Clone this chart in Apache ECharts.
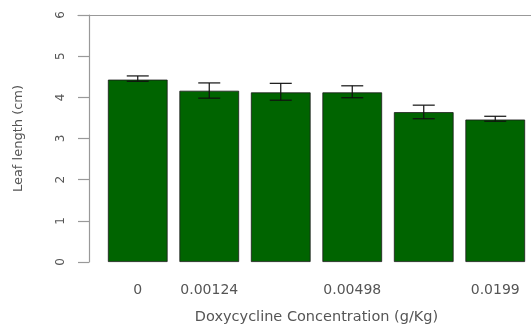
<!DOCTYPE html>
<html><head><meta charset="utf-8">
<script src="https://cdn.jsdelivr.net/npm/echarts@6/dist/echarts.min.js"></script>
<style>html,body{margin:0;padding:0;background:#fff}#c{width:531px;height:335px}</style>
</head><body><div id="c"></div>
<script>
const categories = ['0', '0.00124', '0.00249', '0.00498', '0.00995', '0.0199'];
const shownLabels = [0, 1, 3, 5];
const meanLength = [4.43, 4.16, 4.12, 4.12, 3.64, 3.46];
const errLow = [4.39, 3.98, 3.93, 3.99, 3.48, 3.42];
const errHigh = [4.52, 4.35, 4.34, 4.28, 3.81, 3.54];
const yTicks = [0, 1, 2, 3, 4, 5, 6];

const chart = echarts.init(document.getElementById('c'));
const font = 'DejaVu Sans, sans-serif';
const txt = '#555';
chart.setOption({
  animation: false,
  grid: [
    {left: 102, right: -3, top: 15, bottom: 73},
    {left: 78, right: 0, top: 15, height: 0}
  ],
  xAxis: [{
    type: 'category', data: categories, gridIndex: 0,
    axisLine: {show: false}, axisTick: {show: false},
    axisLabel: {interval: (i) => shownLabels.includes(i), color: txt, fontSize: 14, fontFamily: font, margin: 21},
    name: 'Doxycycline Concentration (g/Kg)', nameLocation: 'middle', nameGap: 48,
    nameTextStyle: {color: txt, fontSize: 14.5, fontFamily: font}
  }, {
    type: 'value', gridIndex: 1, position: 'top',
    axisLine: {show: true, lineStyle: {color: '#999', width: 1.2}},
    axisTick: {show: false}, axisLabel: {show: false}, splitLine: {show: false}
  }],
  yAxis: [{
    type: 'value', min: 0, max: 6, interval: 1, gridIndex: 0, offset: 13,
    axisLine: {show: true, lineStyle: {color: '#999', width: 1.2}},
    axisTick: {show: true, length: 11, lineStyle: {color: '#999', width: 1.2}},
    axisLabel: {rotate: 90, color: txt, fontSize: 12, fontFamily: font, margin: 22,
      formatter: (v) => yTicks.includes(v) ? String(v) : ''},
    splitLine: {show: false},
    name: 'Leaf length (cm)', nameLocation: 'middle', nameGap: 64, nameRotate: 90,
    nameTextStyle: {color: txt, fontSize: 13, fontFamily: font}
  }, {
    type: 'value', gridIndex: 1, show: false
  }],
  series: [{
    type: 'bar', data: meanLength, barCategoryGap: '16.5%',
    itemStyle: {color: '#006400', borderColor: '#1a1a1a', borderWidth: 0.8}
  }, {
    type: 'custom',
    data: meanLength.map((v, i) => [i, errLow[i], errHigh[i]]),
    renderItem: function (params, api) {
      const lo = api.coord([api.value(0), api.value(1)]);
      const hi = api.coord([api.value(0), api.value(2)]);
      const hw = 11;
      const st = {stroke: '#111', lineWidth: 1.2, fill: null};
      return {type: 'group', children: [
        {type: 'line', shape: {x1: lo[0], y1: lo[1], x2: hi[0], y2: hi[1]}, style: st},
        {type: 'line', shape: {x1: lo[0] - hw, y1: lo[1], x2: lo[0] + hw, y2: lo[1]}, style: st},
        {type: 'line', shape: {x1: hi[0] - hw, y1: hi[1], x2: hi[0] + hw, y2: hi[1]}, style: st}
      ]};
    },
    z: 10
  }]
});
</script></body></html>
